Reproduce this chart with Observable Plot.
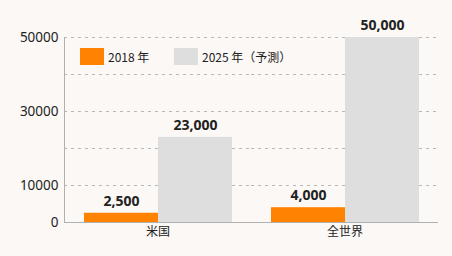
<!DOCTYPE html>
<html>
<head>
<meta charset="utf-8">
<script src="https://cdn.jsdelivr.net/npm/d3@7"></script>
<script src="https://cdn.jsdelivr.net/npm/@observablehq/plot@0.6"></script>
<style>
  html, body { margin: 0; padding: 0; background: #fcf8f5; }
  #wrap { position: relative; width: 452px; height: 256px; font-family: "Noto Sans", "Noto Sans CJK JP", sans-serif; color: #222; }
  .lg { position: absolute; display: flex; align-items: center; font-size: 12px; font-family: "Noto Sans CJK JP", "Noto Sans", sans-serif; }
  .sw { width: 24px; height: 17px; margin-right: 4px; }
</style>
</head>
<body>
<div id="wrap"></div>
<script>
const categories = ["米国", "全世界"];
const seriesNames = ["2018 年", "2025 年（予測）"];
const values2018 = [2500, 4000];
const values2025 = [23000, 50000];
const yTicks = [0, 10000, 30000, 50000];
const gridValues = [10000, 20000, 30000, 40000, 50000];
const seriesColors = ["#ff8300", "#dedede"];

const data = [];
categories.forEach((c, i) => {
  data.push({country: c, series: seriesNames[0], value: values2018[i]});
  data.push({country: c, series: seriesNames[1], value: values2025[i]});
});

const chart = Plot.plot({
  width: 452,
  height: 256,
  marginLeft: 63,
  marginRight: 14,
  marginTop: 37,
  marginBottom: 34,
  style: {background: "transparent", fontFamily: "'Noto Sans', 'Noto Sans CJK JP', sans-serif", color: "#222"},
  fx: {domain: categories, padding: 0, label: null},
  x: {domain: seriesNames, paddingInner: 0, paddingOuter: 0.25, axis: null},
  y: {domain: [0, 50000], axis: null},
  color: {domain: seriesNames, range: seriesColors},
  marks: [
    Plot.ruleY(gridValues, {stroke: "#b8b8b8", strokeDasharray: "3,4", strokeWidth: 1}),
    Plot.barY(data, {fx: "country", x: "series", y: "value", fill: "series"}),
    Plot.ruleY([0], {stroke: "#b0b0b0", strokeWidth: 1}),
    Plot.frame({anchor: "left", facetAnchor: "left", stroke: "#b0b0b0"}),
    Plot.axisY({ticks: yTicks, tickSize: 0, tickPadding: 6, tickFormat: d => String(d), fontSize: 13.5, label: null, fill: "#222"}),
    Plot.axisFx({anchor: "bottom", tickSize: 0, tickPadding: 5, fontSize: 12, label: null, fill: "#222", fontFamily: "'Noto Sans CJK JP', sans-serif"}),
    Plot.text(data, {fx: "country", x: "series", y: "value", text: d => d3.format(",")(d.value), dy: -12, fontSize: 14, fontWeight: "bold", fill: "#222"})
  ]
});

const wrap = document.getElementById("wrap");
wrap.appendChild(chart);

const legendPos = [[80, 48], [174, 48]];
seriesNames.forEach((s, i) => {
  const item = document.createElement("div");
  item.className = "lg";
  item.style.left = legendPos[i][0] + "px";
  item.style.top = legendPos[i][1] + "px";
  const sw = document.createElement("div");
  sw.className = "sw";
  sw.style.background = seriesColors[i];
  const t = document.createElement("span");
  t.textContent = s;
  item.appendChild(sw);
  item.appendChild(t);
  wrap.appendChild(item);
});
</script>
</body>
</html>
